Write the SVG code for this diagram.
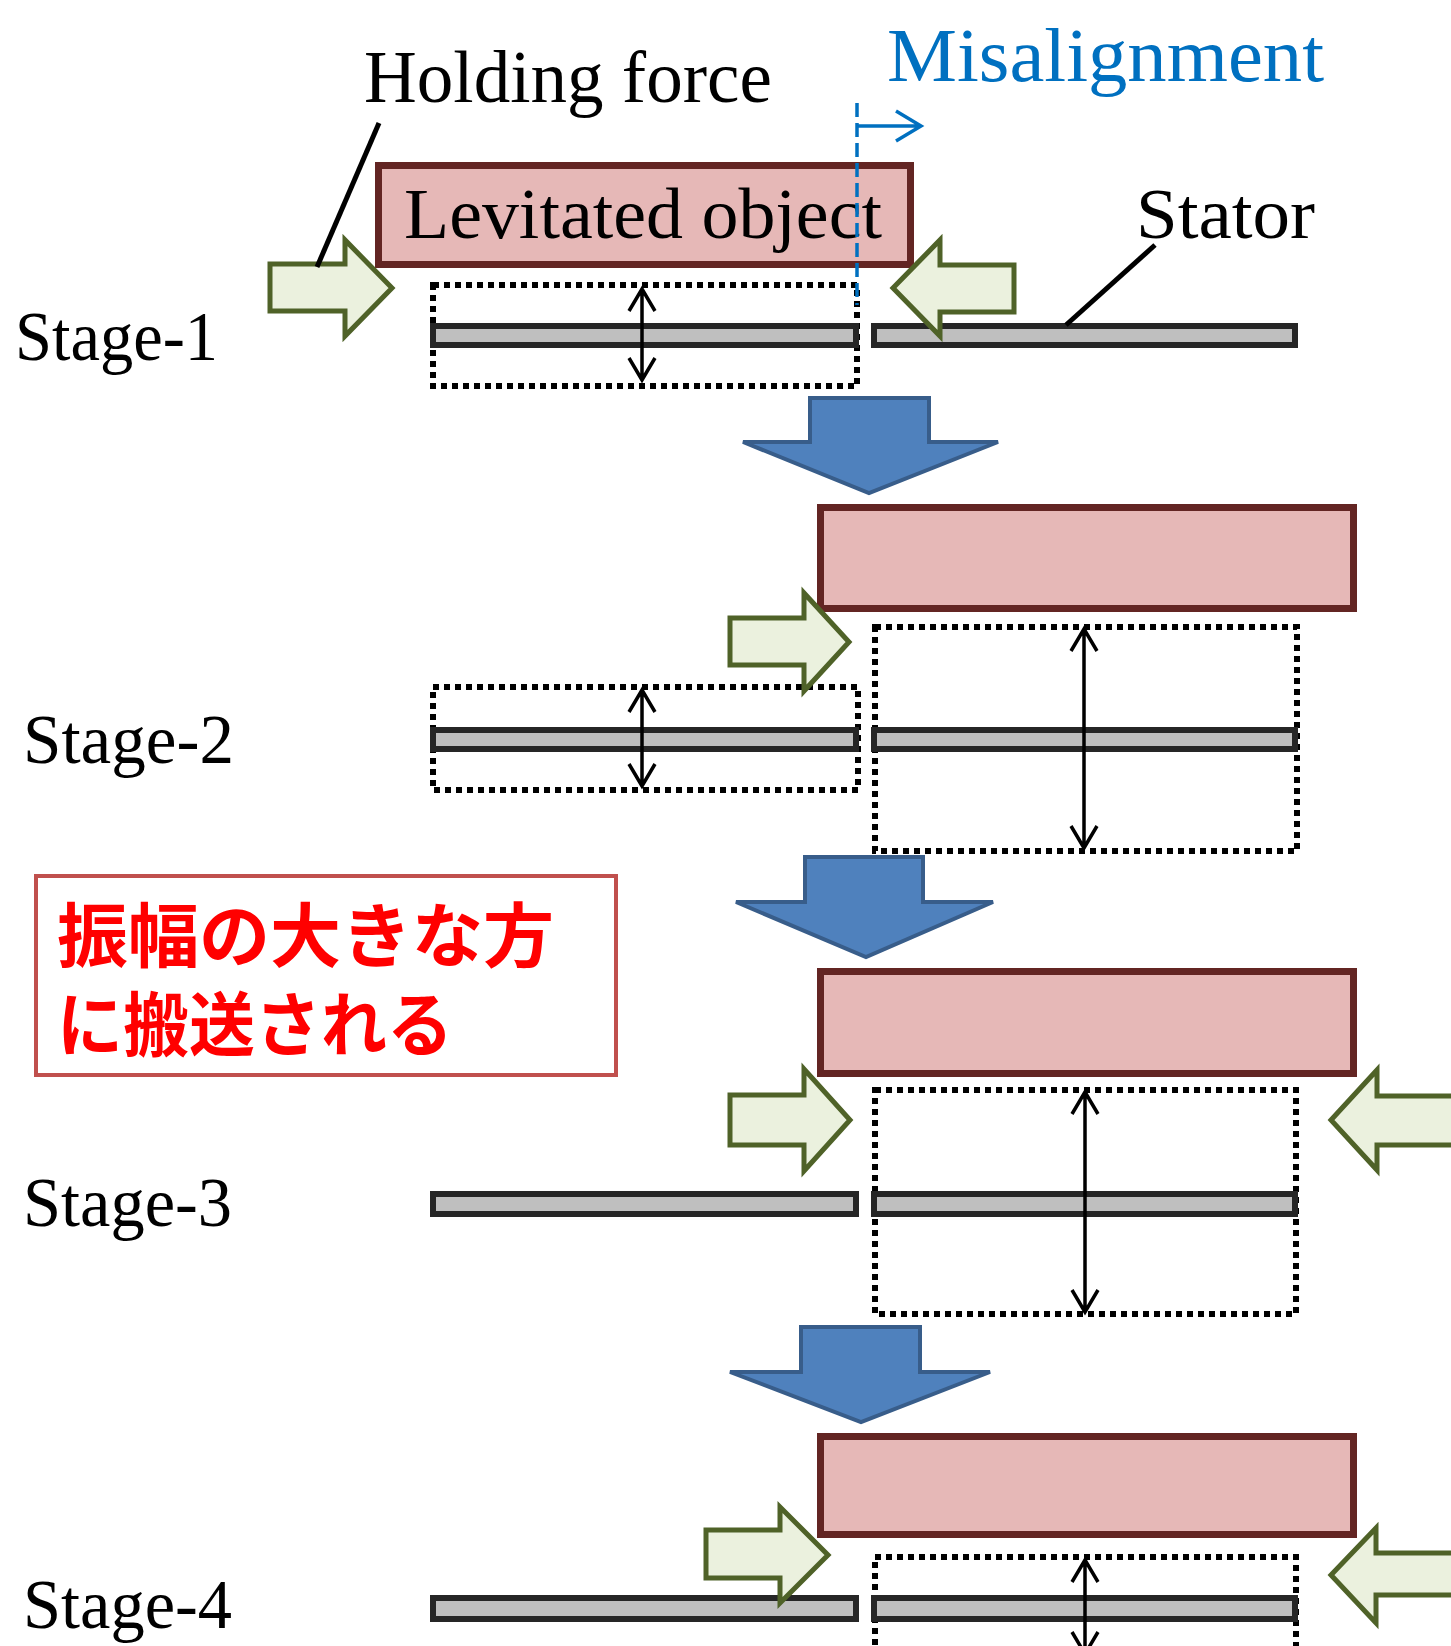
<svg xmlns="http://www.w3.org/2000/svg" width="1451" height="1646" viewBox="0 0 1451 1646">
<style>
.t{font-family:"Liberation Serif","Times New Roman",serif;fill:#000}
.jp{font-family:"Noto Sans CJK JP",sans-serif;fill:#FF0000;font-size:70px;font-weight:700}
.obj{fill:#E6B8B7;stroke:#632523;stroke-width:7}
.bar{fill:#BFBFBF;stroke:#262626;stroke-width:6}
.dot{fill:none;stroke:#000;stroke-width:6;stroke-dasharray:6 5}
.grn{fill:#EBF1DE;stroke:#4F6228;stroke-width:5;stroke-linejoin:miter}
.blu{fill:#4F81BD;stroke:#385D8A;stroke-width:4}
.amp{fill:none;stroke:#000;stroke-width:3.5}
.lead{stroke:#000;stroke-width:5;fill:none}
</style>
<rect width="1451" height="1646" fill="#fff"/>

<g id="labels">
<text class="t" x="364" y="102" font-size="74" textLength="408" lengthAdjust="spacingAndGlyphs">Holding force</text>
<text class="t" x="887" y="81" font-size="77" textLength="437" lengthAdjust="spacingAndGlyphs" style="fill:#0070C0">Misalignment</text>
<text class="t" x="1136" y="238" font-size="72" textLength="179" lengthAdjust="spacingAndGlyphs">Stator</text>
<text class="t" x="15" y="360" font-size="70" textLength="203" lengthAdjust="spacingAndGlyphs">Stage-1</text>
<text class="t" x="23" y="763" font-size="70" textLength="211" lengthAdjust="spacingAndGlyphs">Stage-2</text>
<text class="t" x="23" y="1226" font-size="70" textLength="209" lengthAdjust="spacingAndGlyphs">Stage-3</text>
<text class="t" x="23" y="1628" font-size="70" textLength="209" lengthAdjust="spacingAndGlyphs">Stage-4</text>
</g>

<g id="stage1">
<rect class="dot" x="433" y="285" width="424" height="101"/>
<rect class="bar" x="433" y="326" width="423" height="19"/>
<rect class="bar" x="874" y="326" width="421" height="19"/>
<path class="amp" d="M642,289 V380 M629,311 L642,289 L655,311 M629,358 L642,380 L655,358"/>
<g id="object1">
<rect class="obj" x="378.5" y="165.5" width="532" height="99"/>
<text class="t" x="404" y="238" font-size="72" textLength="478" lengthAdjust="spacingAndGlyphs">Levitated object</text>
</g>
<path class="grn" d="M270,264 H345 V240 L392,288 L345,336 V311 H270 Z"/>
<path class="grn" d="M1014,265 H940 V240 L893,288 L940,336 V312 H1014 Z"/>
</g>

<g id="connectors">
<line class="lead" x1="379" y1="123" x2="317" y2="267"/>
<line class="lead" x1="1155" y1="245" x2="1066" y2="325"/>
<line x1="857" y1="103" x2="857" y2="305" stroke="#0070C0" stroke-width="3.5" stroke-dasharray="14 6"/>
<path d="M857,126 H921 M896,111 L921,126 L896,141" fill="none" stroke="#0070C0" stroke-width="3.5"/>
<path class="blu" d="M810,398 H929 V442 H998 L869,493 L743,442 H810 Z"/>
<path class="blu" d="M805,857 H923 V902 H993 L866,957 L736,902 H805 Z"/>
<path class="blu" d="M801,1327 H920 V1372 H990 L861,1422 L730,1372 H801 Z"/>
</g>

<g id="stage2">
<rect class="dot" x="433" y="687" width="425" height="103"/>
<rect class="dot" x="875" y="627" width="422" height="224"/>
<rect class="bar" x="433" y="730" width="423" height="19"/>
<rect class="bar" x="874" y="730" width="421" height="19"/>
<path class="amp" d="M642,690 V786 M629,712 L642,690 L655,712 M629,764 L642,786 L655,764"/>
<path class="amp" d="M1084,629 V848 M1071,651 L1084,629 L1097,651 M1071,826 L1084,848 L1097,826"/>
<rect class="obj" x="820.5" y="507.5" width="533" height="101"/>
<path class="grn" d="M730,618 H804 V593 L849,642 L804,691 V665 H730 Z"/>
</g>

<g id="note">
<rect x="36" y="876" width="580" height="199" fill="#fff" stroke="#C0504D" stroke-width="4"/>
<text class="jp" x="57" y="962" textLength="497" lengthAdjust="spacingAndGlyphs">振幅の大きな方</text>
<text class="jp" x="57" y="1051" textLength="396" lengthAdjust="spacingAndGlyphs">に搬送される</text>
</g>

<g id="stage3">
<rect class="dot" x="875" y="1090" width="421" height="224"/>
<rect class="bar" x="433" y="1194" width="423" height="20"/>
<rect class="bar" x="874" y="1194" width="421" height="20"/>
<path class="amp" d="M1085,1092 V1312 M1072,1114 L1085,1092 L1098,1114 M1072,1290 L1085,1312 L1098,1290"/>
<rect class="obj" x="820.5" y="971.5" width="533" height="102"/>
<path class="grn" d="M730,1095 H804 V1069 L850,1120 L804,1171 V1145 H730 Z"/>
<path class="grn" d="M1460,1096 H1377 V1070 L1331,1120 L1377,1170 V1145 H1460 Z"/>
</g>

<g id="stage4">
<rect class="dot" x="875" y="1557" width="421" height="140"/>
<rect class="bar" x="433" y="1598" width="423" height="21"/>
<rect class="bar" x="874" y="1598" width="421" height="21"/>
<path class="amp" d="M1085,1560 V1654 M1072,1582 L1085,1560 L1098,1582 M1072,1632 L1085,1654 L1098,1632"/>
<rect class="obj" x="820.5" y="1436.5" width="533" height="98"/>
<path class="grn" d="M706,1530 H780 V1507 L828,1555 L780,1603 V1578 H706 Z"/>
<path class="grn" d="M1460,1553 H1376 V1528 L1331,1575 L1376,1623 V1595 H1460 Z"/>
</g>
</svg>
